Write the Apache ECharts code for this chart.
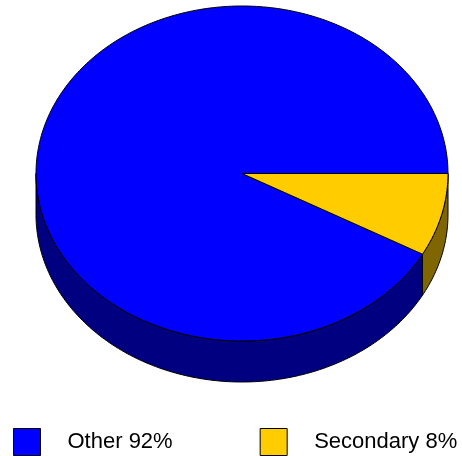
<!DOCTYPE html>
<html><head><meta charset="utf-8">
<script src="https://cdn.jsdelivr.net/npm/echarts@6/dist/echarts.min.js"></script>
<style>html,body{margin:0;padding:0;background:#fff}#c{width:462px;height:456px}</style>
</head><body><div id="c"></div>
<script>
const categories = ['Other', 'Secondary'];
const values = [92, 8];

const topColors = ['#0000FF', '#FFCC00'];
const sideColors = ['#000080', '#806600'];
const depth = 41;

const total = values.reduce((a, b) => a + b, 0);
const starts = [];
let acc = 0;
values.forEach(v => { starts.push(acc / total); acc += v; });
const names = categories.map((c, i) => c + ' ' + Math.round(values[i] / total * 100) + '%');

function makeRender(i) {
  return function (params, api) {
    const a0 = starts[i] * 360;
    const a1 = (starts[i] + values[i] / total) * 360;
    const pt = (deg, dy) => {
      const r = deg * Math.PI / 180;
      const p = api.coord([Math.cos(r), Math.sin(r)]);
      return [p[0], p[1] + (dy || 0)];
    };
    const children = [];
    const s0 = Math.max(a0, 180), s1 = Math.min(a1, 360);
    if (s1 > s0) {
      const pts = [];
      for (let d = s0; d < s1; d += 1) pts.push(pt(d));
      pts.push(pt(s1));
      for (let d = s1; d > s0; d -= 1) pts.push(pt(d, depth));
      pts.push(pt(s0, depth));
      children.push({ type: 'polygon', z2: 1, shape: { points: pts },
        style: { fill: sideColors[i], stroke: '#000', lineWidth: 1 } });
    }
    const top = [api.coord([0, 0])];
    for (let d = a0; d < a1; d += 1) top.push(pt(d));
    top.push(pt(a1));
    children.push({ type: 'polygon', z2: 2, shape: { points: top },
      style: { fill: topColors[i], stroke: '#000', lineWidth: 1 } });
    return { type: 'group', children };
  };
}

const chart = echarts.init(document.getElementById('c'), null, { renderer: 'canvas' });
chart.setOption({
  animation: false,
  backgroundColor: '#fff',
  grid: { left: 36, right: 14, top: 6, bottom: 115 },
  xAxis: { type: 'value', min: -1, max: 1, show: false },
  yAxis: { type: 'value', min: -1, max: 1, show: false },
  legend: {
    data: names, left: 13, top: 428, icon: 'rect', itemWidth: 27, itemHeight: 27, itemGap: 87,
    padding: 0,
    itemStyle: { borderColor: '#000', borderWidth: 1 },
    textStyle: { fontFamily: 'Liberation Sans, Arial, sans-serif', fontSize: 22, color: '#000', padding: [0, 0, 0, 22] }
  },
  series: categories.map((c, i) => ({
    type: 'custom', name: names[i],
    coordinateSystem: 'cartesian2d',
    itemStyle: { color: topColors[i] },
    renderItem: makeRender(i),
    data: [[0, 0]]
  }))
});
</script></body></html>
